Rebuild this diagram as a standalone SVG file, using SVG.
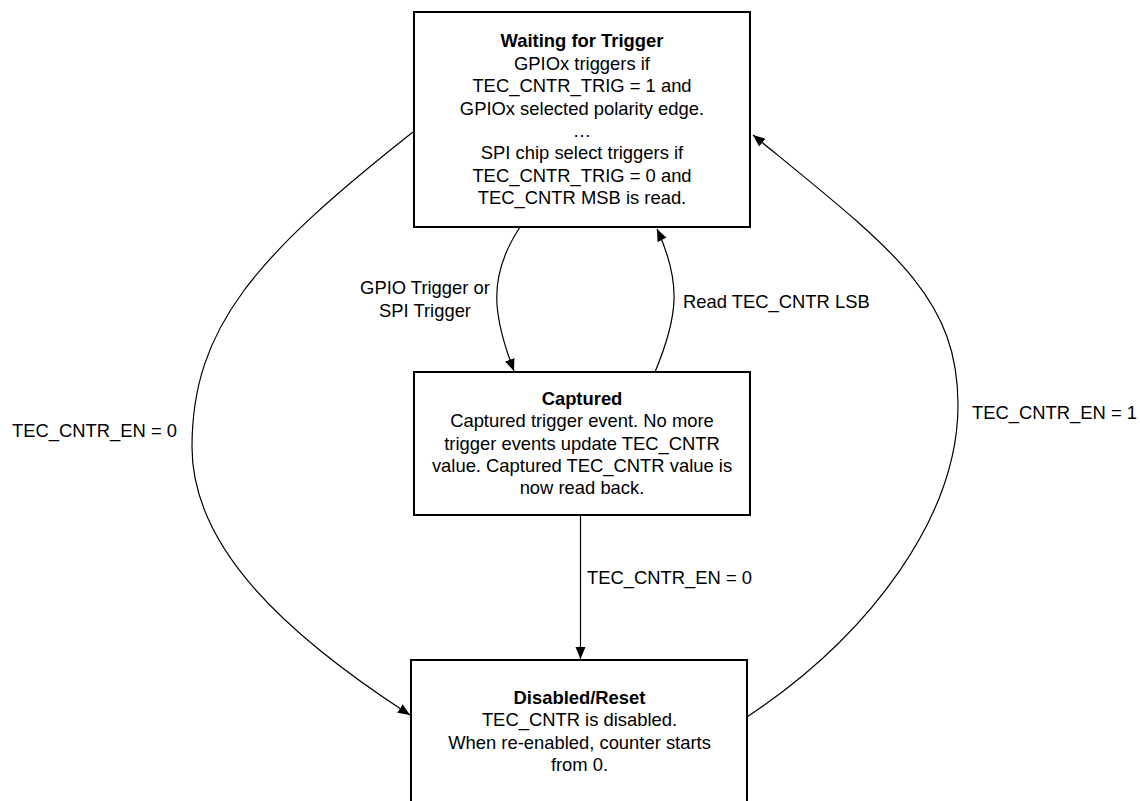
<svg xmlns="http://www.w3.org/2000/svg" width="1140" height="801" viewBox="0 0 1140 801">
  <style>
    text { font-family: "Liberation Sans", Arial, sans-serif; font-size: 18.4px; fill: #000; }
    .c { text-anchor: middle; }
    .b { font-weight: bold; }
    .box { fill: #fff; stroke: #000; stroke-width: 2; }
    .edge { fill: none; stroke: #000; stroke-width: 1.2; }
  </style>
  <defs>
    <marker id="arr" markerUnits="userSpaceOnUse" markerWidth="13" markerHeight="11" refX="12" refY="5" orient="auto">
      <path d="M0,0 L12,5 L0,10 z" fill="#000"/>
    </marker>
  </defs>
  <rect width="1140" height="801" fill="#fff"/>

  <g id="connectors">
    <path class="edge" d="M413,132 C256,256 192,327 192,447 C192,547 285,634 410,715" marker-end="url(#arr)"/>
    <path class="edge" d="M747,717 C872,634 958,515 958,405 C958,295 891,248 753,135" marker-end="url(#arr)"/>
    <path class="edge" d="M520,227 C487,277 493,316 514,371" marker-end="url(#arr)"/>
    <path class="edge" d="M655,372 C678,317 682,283 657,229" marker-end="url(#arr)"/>
    <path class="edge" d="M580.5,515 L580.5,659" marker-end="url(#arr)"/>
    <g id="edge-labels">
      <text x="12" y="437">TEC_CNTR_EN = 0</text>
      <text x="972" y="419">TEC_CNTR_EN = 1</text>
      <text x="587" y="584">TEC_CNTR_EN = 0</text>
      <text x="683" y="307.5">Read TEC_CNTR LSB</text>
      <text class="c" x="425" y="294">GPIO Trigger or</text>
      <text class="c" x="425" y="316.5">SPI Trigger</text>
    </g>
  </g>

  <g id="node-waiting">
    <rect class="box" x="414" y="12" width="336" height="215"/>
    <text class="c b" x="582" y="47.3">Waiting for Trigger</text>
    <text class="c" x="582" y="69.7">GPIOx triggers if</text>
    <text class="c" x="582" y="92.1">TEC_CNTR_TRIG = 1 and</text>
    <text class="c" x="582" y="114.5">GPIOx selected polarity edge.</text>
    <text class="c" x="582" y="136.9">…</text>
    <text class="c" x="582" y="159.3">SPI chip select triggers if</text>
    <text class="c" x="582" y="181.7">TEC_CNTR_TRIG = 0 and</text>
    <text class="c" x="582" y="204.1">TEC_CNTR MSB is read.</text>
  </g>

  <g id="node-captured">
    <rect class="box" x="414" y="372" width="336" height="143"/>
    <text class="c b" x="582" y="405">Captured</text>
    <text class="c" x="582" y="427.3">Captured trigger event. No more</text>
    <text class="c" x="582" y="449.6">trigger events update TEC_CNTR</text>
    <text class="c" x="582" y="471.9">value. Captured TEC_CNTR value is</text>
    <text class="c" x="582" y="494.2">now read back.</text>
  </g>

  <g id="node-disabled">
    <rect class="box" x="411" y="660" width="336" height="160"/>
    <text class="c b" x="579.5" y="704">Disabled/Reset</text>
    <text class="c" x="579.5" y="726.3">TEC_CNTR is disabled.</text>
    <text class="c" x="579.5" y="748.6">When re-enabled, counter starts</text>
    <text class="c" x="579.5" y="770.9">from 0.</text>
  </g>
</svg>
